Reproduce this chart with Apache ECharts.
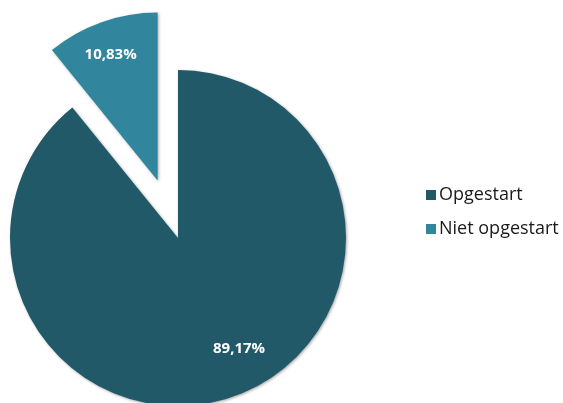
<!DOCTYPE html>
<html><head><meta charset="utf-8">
<script src="https://cdn.jsdelivr.net/npm/echarts@6/dist/echarts.min.js"></script>
<style>html,body{margin:0;padding:0;background:#fff}#c{width:563px;height:403px}</style>
</head><body><div id="c"></div>
<script>
const categories = ['Opgestart', 'Niet opgestart'];
const values = [89.17, 10.83];
const colors = ['#215968', '#31859C'];

const chart = echarts.init(document.getElementById('c'));
chart.setOption({
  animation: false,
  legend: {
    orient: 'vertical', left: 421, top: 181,
    itemWidth: 10, itemHeight: 10, itemGap: 16, icon: 'rect',
    textStyle: { fontFamily: 'Open Sans', fontSize: 18, color: '#1a1a1a', padding: [0,0,0,-2] },
    data: categories
  },
  series: [{
    type: 'pie',
    center: [178, 238], radius: 168,
    startAngle: 90, clockwise: true,
    selectedMode: 'multiple', selectedOffset: 61,
    itemStyle: { shadowBlur: 3, shadowColor: 'rgba(0,0,0,0.35)', shadowOffsetX: 1, shadowOffsetY: 1 },
    label: {
      position: 'inside', color: '#fff', fontFamily: 'Open Sans', fontWeight: 'bold', fontSize: 15,
      formatter: p => p.value.toFixed(2).replace('.', ',') + '%'
    },
    labelLayout: p => p.dataIndex === 0 ? { dx: 32, dy: 29 } : { dx: -18, dy: -44 },
    emphasis: { disabled: true },
    data: categories.map((n, i) => ({ name: n, value: values[i], selected: i === 1, itemStyle: { color: colors[i] } }))
  }]
});
</script></body></html>
